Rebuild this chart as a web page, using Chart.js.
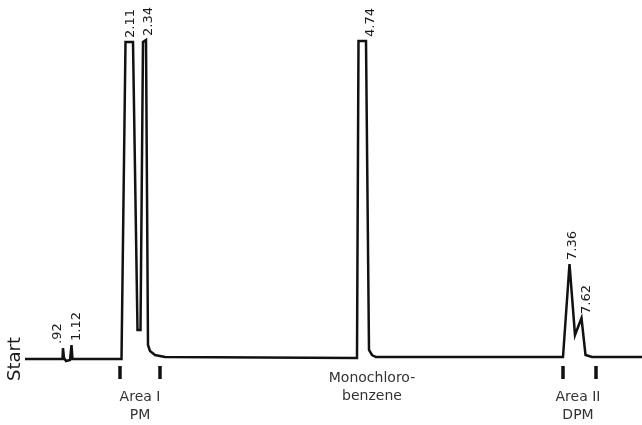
<!DOCTYPE html>
<html>
<head>
<meta charset="utf-8">
<script src="https://cdn.jsdelivr.net/npm/chart.js@4"></script>
<style>
  html, body { margin: 0; padding: 0; background: #fff; }
  canvas { display: block; }
</style>
</head>
<body>
<canvas id="chromChart" width="642" height="425"></canvas>
<script>
// chromatogram trace, chart units (x = position along the paper, y = pen height above baseline)
const traceX = [25, 62.5, 63, 64, 66, 70, 71.5, 72.5, 121.5, 125.5, 133, 137.5, 140.5, 143, 146, 148, 150, 155, 165,
  357, 358.5, 366, 369, 372, 376, 563, 569.5, 575, 581.5, 585.5, 592, 642];
const traceY = [0, 0, 11, 1, -2, -1, 14, 0, 0, 317, 317, 29, 29, 317, 319, 14, 8, 4, 2,
  1, 318, 318, 9, 4, 2, 2, 95, 24, 41, 4, 2, 2];

// retention times written over the peaks
const peakLabels = [".92", "1.12", "2.11", "2.34", "4.74", "7.36", "7.62"];
const peakX = [58, 77, 131, 149, 371, 573, 587];

// integration marks under the baseline
const areaMarkX = [120, 160, 563, 596];

const regionNames = [["Area I", "PM"], ["Monochloro-", "benzene"], ["Area II", "DPM"]];
const regionX = [140, 372, 578];

const tracePoints = traceX.map((x, i) => ({ x: x, y: traceY[i] }));

let markPoints = [];
areaMarkX.forEach((x) => {
  markPoints.push({ x: x, y: -7 }, { x: x, y: -20 }, { x: x, y: null });
});

const labelPlugin = {
  id: "labelPlugin",
  afterDatasetsDraw(chart) {
    const ctx = chart.ctx;
    const xs = chart.scales.x;
    const ys = chart.scales.y;
    const base = ys.getPixelForValue(0);
    ctx.save();

    // peak times, rotated
    ctx.fillStyle = "#1a1a1a";
    ctx.font = "13px 'DejaVu Sans'";
    ctx.textAlign = "left";
    ctx.textBaseline = "middle";
    peakLabels.forEach((lab, i) => {
      let top = 0;
      traceX.forEach((x, j) => {
        if (Math.abs(x - peakX[i]) <= 6) top = Math.max(top, traceY[j]);
      });
      ctx.save();
      ctx.translate(xs.getPixelForValue(peakX[i]), ys.getPixelForValue(top) - 4);
      ctx.rotate(-Math.PI / 2);
      ctx.fillText(lab, 0, 0);
      ctx.restore();
    });

    // Start
    ctx.save();
    ctx.font = "18px 'DejaVu Sans'";
    ctx.textAlign = "center";
    ctx.translate(xs.getPixelForValue(traceX[0]) - 10, base);
    ctx.rotate(-Math.PI / 2);
    ctx.fillText("Start", 0, 0);
    ctx.restore();

    // region names
    ctx.fillStyle = "#333";
    ctx.font = "14px 'DejaVu Sans'";
    ctx.textAlign = "center";
    regionNames.forEach((lines, i) => {
      const hasMarks = areaMarkX.some((m) => Math.abs(m - regionX[i]) < 40);
      let y = base + (hasMarks ? 38 : 19);
      lines.forEach((t) => {
        ctx.fillText(t, xs.getPixelForValue(regionX[i]), y);
        y += 18;
      });
    });
    ctx.restore();
  },
};

const config = {
  type: "line",
  data: {
    datasets: [
      {
        data: tracePoints,
        borderColor: "#111",
        borderWidth: 2.5,
        pointRadius: 0,
        tension: 0,
        borderJoinStyle: "miter",
        fill: false,
      },
      {
        data: markPoints,
        borderColor: "#111",
        borderWidth: 3.5,
        borderCapStyle: "butt",
        pointRadius: 0,
        spanGaps: false,
        fill: false,
      },
    ],
  },
  options: {
    responsive: false,
    animation: false,
    devicePixelRatio: 1,
    layout: { padding: 0 },
    plugins: {
      legend: { display: false },
      tooltip: { enabled: false },
    },
    scales: {
      x: { type: "linear", display: false, min: 0, max: 642 },
      y: { type: "linear", display: false, min: -66, max: 359 },
    },
  },
  plugins: [labelPlugin],
};

new Chart(document.getElementById("chromChart").getContext("2d"), config);
</script>
</body>
</html>
